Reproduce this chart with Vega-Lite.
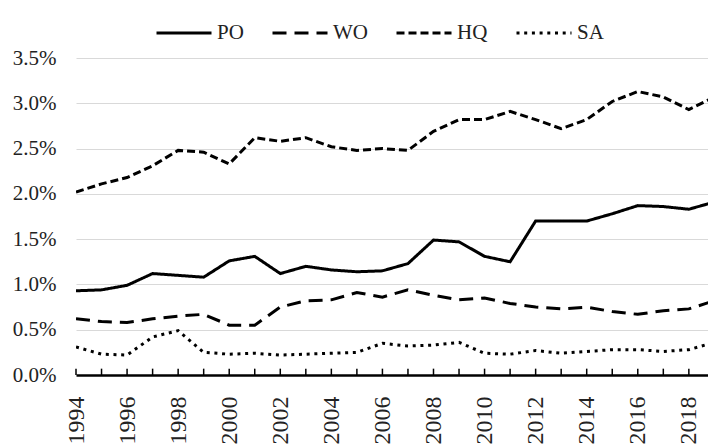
{
  "$schema": "https://vega.github.io/schema/vega-lite/v6.json",
  "autosize": {"type": "none"},
  "padding": {"left": 76, "top": 58, "right": 0, "bottom": 72},
  "width": 632,
  "height": 317,
  "background": "white",
  "config": {
    "view": {"stroke": null},
    "font": "Liberation Serif",
    "axis": {"labelFont": "Liberation Serif"},
    "legend": {"labelFont": "Liberation Serif"}
  },
  "datasets": {
    "main": [
      {"year":1994,"series":"PO","share":0.93},{"year":1995,"series":"PO","share":0.94},{"year":1996,"series":"PO","share":0.99},{"year":1997,"series":"PO","share":1.12},{"year":1998,"series":"PO","share":1.10},{"year":1999,"series":"PO","share":1.08},{"year":2000,"series":"PO","share":1.26},{"year":2001,"series":"PO","share":1.31},{"year":2002,"series":"PO","share":1.12},{"year":2003,"series":"PO","share":1.20},{"year":2004,"series":"PO","share":1.16},{"year":2005,"series":"PO","share":1.14},{"year":2006,"series":"PO","share":1.15},{"year":2007,"series":"PO","share":1.23},{"year":2008,"series":"PO","share":1.49},{"year":2009,"series":"PO","share":1.47},{"year":2010,"series":"PO","share":1.31},{"year":2011,"series":"PO","share":1.25},{"year":2012,"series":"PO","share":1.70},{"year":2013,"series":"PO","share":1.70},{"year":2014,"series":"PO","share":1.70},{"year":2015,"series":"PO","share":1.78},{"year":2016,"series":"PO","share":1.87},{"year":2017,"series":"PO","share":1.86},{"year":2018,"series":"PO","share":1.83},{"year":2019,"series":"PO","share":1.91},
      {"year":1994,"series":"WO","share":0.62},{"year":1995,"series":"WO","share":0.59},{"year":1996,"series":"WO","share":0.58},{"year":1997,"series":"WO","share":0.62},{"year":1998,"series":"WO","share":0.65},{"year":1999,"series":"WO","share":0.67},{"year":2000,"series":"WO","share":0.55},{"year":2001,"series":"WO","share":0.55},{"year":2002,"series":"WO","share":0.75},{"year":2003,"series":"WO","share":0.82},{"year":2004,"series":"WO","share":0.83},{"year":2005,"series":"WO","share":0.91},{"year":2006,"series":"WO","share":0.86},{"year":2007,"series":"WO","share":0.94},{"year":2008,"series":"WO","share":0.88},{"year":2009,"series":"WO","share":0.83},{"year":2010,"series":"WO","share":0.85},{"year":2011,"series":"WO","share":0.79},{"year":2012,"series":"WO","share":0.75},{"year":2013,"series":"WO","share":0.73},{"year":2014,"series":"WO","share":0.75},{"year":2015,"series":"WO","share":0.70},{"year":2016,"series":"WO","share":0.67},{"year":2017,"series":"WO","share":0.71},{"year":2018,"series":"WO","share":0.73},{"year":2019,"series":"WO","share":0.82},
      {"year":1994,"series":"HQ","share":2.02},{"year":1995,"series":"HQ","share":2.11},{"year":1996,"series":"HQ","share":2.18},{"year":1997,"series":"HQ","share":2.31},{"year":1998,"series":"HQ","share":2.48},{"year":1999,"series":"HQ","share":2.46},{"year":2000,"series":"HQ","share":2.33},{"year":2001,"series":"HQ","share":2.62},{"year":2002,"series":"HQ","share":2.58},{"year":2003,"series":"HQ","share":2.62},{"year":2004,"series":"HQ","share":2.52},{"year":2005,"series":"HQ","share":2.48},{"year":2006,"series":"HQ","share":2.50},{"year":2007,"series":"HQ","share":2.48},{"year":2008,"series":"HQ","share":2.69},{"year":2009,"series":"HQ","share":2.82},{"year":2010,"series":"HQ","share":2.82},{"year":2011,"series":"HQ","share":2.91},{"year":2012,"series":"HQ","share":2.82},{"year":2013,"series":"HQ","share":2.72},{"year":2014,"series":"HQ","share":2.82},{"year":2015,"series":"HQ","share":3.02},{"year":2016,"series":"HQ","share":3.13},{"year":2017,"series":"HQ","share":3.07},{"year":2018,"series":"HQ","share":2.93},{"year":2019,"series":"HQ","share":3.07},
      {"year":1994,"series":"SA","share":0.31},{"year":1995,"series":"SA","share":0.23},{"year":1996,"series":"SA","share":0.22},{"year":1997,"series":"SA","share":0.42},{"year":1998,"series":"SA","share":0.49},{"year":1999,"series":"SA","share":0.25},{"year":2000,"series":"SA","share":0.23},{"year":2001,"series":"SA","share":0.24},{"year":2002,"series":"SA","share":0.22},{"year":2003,"series":"SA","share":0.23},{"year":2004,"series":"SA","share":0.24},{"year":2005,"series":"SA","share":0.25},{"year":2006,"series":"SA","share":0.35},{"year":2007,"series":"SA","share":0.32},{"year":2008,"series":"SA","share":0.33},{"year":2009,"series":"SA","share":0.36},{"year":2010,"series":"SA","share":0.24},{"year":2011,"series":"SA","share":0.23},{"year":2012,"series":"SA","share":0.27},{"year":2013,"series":"SA","share":0.24},{"year":2014,"series":"SA","share":0.26},{"year":2015,"series":"SA","share":0.28},{"year":2016,"series":"SA","share":0.28},{"year":2017,"series":"SA","share":0.26},{"year":2018,"series":"SA","share":0.28},{"year":2019,"series":"SA","share":0.36}
    ],
    "ticks": [
      {"year":1994},{"year":1995},{"year":1996},{"year":1997},{"year":1998},{"year":1999},{"year":2000},{"year":2001},{"year":2002},{"year":2003},{"year":2004},{"year":2005},{"year":2006},{"year":2007},{"year":2008},{"year":2009},{"year":2010},{"year":2011},{"year":2012},{"year":2013},{"year":2014},{"year":2015},{"year":2016},{"year":2017},{"year":2018}
    ]
  },
  "layer": [
    {
      "data": {"name": "main"},
      "mark": {"type": "line", "stroke": "black", "strokeWidth": 3, "clip": true},
      "encoding": {
        "x": {
          "field": "year", "type": "quantitative",
          "scale": {"domain": [1994, 2018.75], "nice": false, "zero": false},
          "axis": {
            "title": null,
            "values": [1994,1996,1998,2000,2002,2004,2006,2008,2010,2012,2014,2016,2018],
            "format": "d",
            "labelAngle": -90,
            "labelAlign": "right",
            "labelBaseline": "middle",
            "labelFont": "Liberation Serif",
            "labelFontSize": 24,
            "labelColor": "#222",
            "labelPadding": 21,
            "labelFlush": false,
            "labelOverlap": false,
            "grid": false,
            "domainColor": "black",
            "domainWidth": 2.5,
            "ticks": false
          }
        },
        "y": {
          "field": "share", "type": "quantitative",
          "scale": {"domain": [0, 3.5], "nice": false},
          "axis": {
            "title": null,
            "values": [0, 0.5, 1, 1.5, 2, 2.5, 3, 3.5],
            "labelExpr": "format(datum.value, '.1f') + '%'",
            "labelFont": "Liberation Serif",
            "labelFontSize": 21,
            "labelColor": "#222",
            "labelPadding": 20,
            "ticks": false,
            "domain": false,
            "grid": true,
            "gridColor": "#d9d9d9",
            "gridWidth": 1
          }
        },
        "strokeDash": {
          "field": "series", "type": "nominal",
          "scale": {"domain": ["PO", "WO", "HQ", "SA"], "range": [[1, 0], [14, 8], [8, 4], [3, 4.7]]},
          "legend": {
            "title": null,
            "orient": "none",
            "direction": "horizontal",
            "legendX": 79,
            "legendY": -54,
            "symbolType": "stroke",
            "symbolSize": 3025,
            "symbolStrokeWidth": 3,
            "symbolStrokeColor": "black",
            "labelFont": "Liberation Serif",
            "labelFontSize": 21,
            "labelColor": "#222",
            "labelOffset": 4,
            "columnPadding": 22
          }
        }
      }
    },
    {
      "data": {"name": "ticks"},
      "mark": {"type": "rule", "stroke": "black", "strokeWidth": 1.5},
      "encoding": {
        "x": {"field": "year", "type": "quantitative"},
        "y": {"datum": 0},
        "y2": {"datum": 0.07}
      }
    }
  ]
}
